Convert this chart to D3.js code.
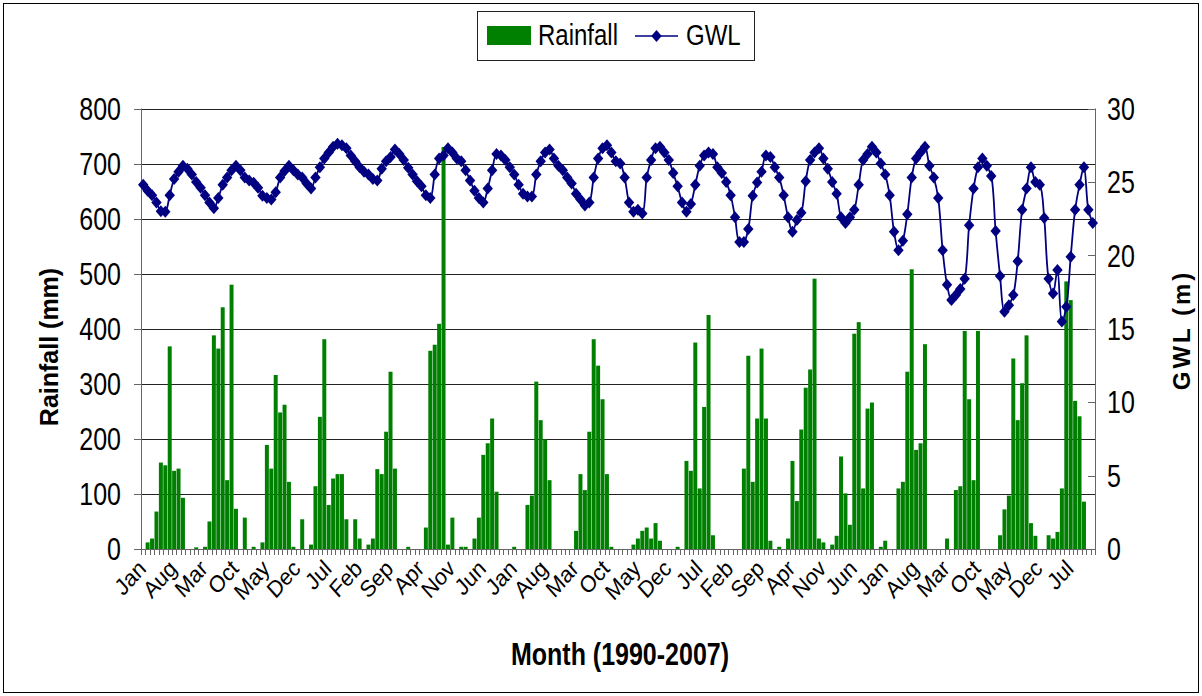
<!DOCTYPE html>
<html>
<head>
<meta charset="utf-8">
<script src="https://cdn.jsdelivr.net/npm/d3@7"></script>
<style>
  body { margin: 0; background: #fff; }
  svg text { font-family: "Liberation Sans", Arial, sans-serif; fill: #000; }
</style>
</head>
<body>
<div id="chart"></div>
<script>
// monthly series, Jan 1990 .. Dec 2007 (12 values per row = one year)
const monthNames = ['Jan', 'Feb', 'Mar', 'Apr', 'May', 'Jun', 'Jul', 'Aug', 'Sep', 'Oct', 'Nov', 'Dec'];
const years = d3.range(1990, 2008);

const rainfall = [
  0, 12, 19, 68, 157, 152, 368, 142, 146, 93, 0, 0,
  3, 0, 4, 50, 388, 364, 439, 125, 480, 73, 0, 57,
  0, 4, 0, 12, 189, 146, 316, 248, 262, 122, 4, 0,
  54, 0, 8, 114, 240, 381, 80, 128, 136, 136, 54, 0,
  54, 19, 0, 8, 19, 145, 136, 213, 322, 146, 0, 0,
  4, 0, 0, 0, 39, 360, 371, 409, 730, 8, 57, 0,
  4, 4, 0, 19, 57, 171, 192, 237, 104, 0, 0, 0,
  4, 0, 0, 80, 97, 304, 234, 199, 125, 0, 0, 0,
  0, 0, 33, 136, 107, 213, 381, 333, 272, 136, 4, 0,
  0, 0, 0, 8, 19, 33, 39, 19, 47, 15, 0, 0,
  0, 4, 0, 160, 142, 375, 110, 258, 425, 25, 0, 0,
  0, 0, 0, 0, 146, 351, 122, 237, 364, 237, 15, 0,
  4, 0, 19, 160, 87, 217, 293, 326, 491, 19, 12, 0,
  8, 24, 168, 101, 44, 391, 412, 110, 255, 266, 0, 4,
  15, 0, 0, 110, 122, 322, 508, 180, 192, 372, 0, 0,
  0, 0, 19, 0, 107, 114, 396, 272, 125, 396, 0, 0,
  0, 0, 25, 72, 97, 346, 234, 301, 388, 47, 24, 0,
  0, 25, 19, 31, 110, 486, 452, 269, 241, 86, 0, 0
];

const gwl = [
  24.8, 24.4, 24.1, 23.6, 23.0, 22.96, 24.1, 25.2, 25.7, 26.1, 25.9, 25.5,
  25.0, 24.6, 24.1, 23.6, 23.2, 23.9, 24.8, 25.3, 25.8, 26.1, 25.8, 25.3,
  25.1, 24.95, 24.6, 24.05, 23.9, 23.8, 24.3, 25.3, 25.75, 26.1, 25.8, 25.5,
  25.3, 24.9, 24.55, 25.3, 26.0, 26.6, 27.0, 27.4, 27.6, 27.5, 27.3, 26.8,
  26.4, 26.0, 25.7, 25.5, 25.2, 25.1, 25.9, 26.4, 26.7, 27.2, 26.9, 26.5,
  25.96, 25.5, 25.05, 24.7, 24.1, 23.9, 25.5, 26.6, 26.8, 27.3, 27.0, 26.6,
  26.4, 25.8, 25.1, 24.4, 23.9, 23.6, 24.55, 25.8, 26.9, 26.8, 26.5, 26.0,
  25.5, 24.8, 24.2, 24.0, 24.0, 25.5, 26.4, 27.0, 27.2, 26.6, 26.1, 25.8,
  25.3, 24.9, 24.2, 23.8, 23.4, 23.6, 25.3, 26.6, 27.3, 27.5, 27.0, 26.4,
  26.25, 25.3, 23.6, 22.96, 23.1, 22.85, 25.3, 26.5, 27.3, 27.4, 27.0, 26.5,
  25.6, 24.7, 23.6, 22.96, 23.5, 24.8, 26.1, 26.8, 27.0, 26.9, 26.0, 25.6,
  25.0, 24.1, 22.6, 20.9, 20.9, 21.8, 24.05, 24.96, 25.7, 26.8, 26.7, 26.0,
  25.3, 24.1, 22.6, 21.6, 22.4, 22.9, 25.05, 26.5, 27.0, 27.3, 26.6, 25.9,
  25.0, 24.2, 22.6, 22.2, 22.6, 23.1, 24.8, 26.5, 26.9, 27.4, 27.0, 26.25,
  25.5, 24.1, 21.6, 20.35, 21.0, 22.8, 25.3, 26.6, 27.0, 27.4, 26.1, 25.3,
  23.9, 20.35, 18.0, 16.95, 17.3, 17.7, 18.4, 22.05, 24.55, 26.0, 26.6, 26.1,
  25.4, 21.65, 18.6, 16.15, 16.6, 17.3, 19.6, 23.1, 24.55, 26.0, 25.0, 24.8,
  22.55, 18.4, 17.4, 19.0, 15.5, 16.5, 19.9, 23.1, 24.8, 26.0, 23.1, 22.2
];

const rainTicks = [0, 100, 200, 300, 400, 500, 600, 700, 800];
const gwlTicks = [0, 5, 10, 15, 20, 25, 30];
const labelStep = 7;

const width = 1202;
const height = 696;
const plot = {left: 141, right: 1095, top: 108.5, bottom: 549};
const sy = 1.25;   // the original picture is stretched vertically

const months = years.flatMap(y => monthNames.map(m => ({year: y, month: m})));
const data = months.map((d, i) => ({i, label: d.month, rain: rainfall[i], level: gwl[i]}));

const svg = d3.select('#chart')
  .append('svg')
  .attr('width', width)
  .attr('height', height);

svg.append('rect')
  .attr('x', 3.5).attr('y', 3.5)
  .attr('width', width - 7).attr('height', height - 7)
  .attr('fill', 'none')
  .attr('stroke', '#000');

const x = d3.scaleBand()
  .domain(d3.range(data.length))
  .range([plot.left, plot.right]);

const yRain = d3.scaleLinear()
  .domain([0, 800])
  .range([plot.bottom, plot.top]);

const yGwl = d3.scaleLinear()
  .domain([0, 30])
  .range([plot.bottom, plot.top]);

function stretched(sel, tx, ty, rot, s) {
  return sel.attr('transform', `translate(${tx},${ty}) scale(1,${s || sy}) rotate(${rot || 0})`);
}

// gridlines
svg.append('g')
  .selectAll('line')
  .data(rainTicks.filter(d => d > 0))
  .enter().append('line')
  .attr('x1', plot.left).attr('x2', plot.right)
  .attr('y1', d => Math.round(yRain(d)) + 0.5)
  .attr('y2', d => Math.round(yRain(d)) + 0.5)
  .attr('stroke', '#222');

// rainfall bars
const bw = x.bandwidth();
svg.append('g')
  .selectAll('rect')
  .data(data.filter(d => d.rain > 0))
  .enter().append('rect')
  .attr('x', d => x(d.i) + bw * 0.05)
  .attr('width', bw * 0.9)
  .attr('y', d => yRain(d.rain))
  .attr('height', d => plot.bottom - yRain(d.rain))
  .attr('fill', '#008000');

// axes lines
const axisColour = '#666';
const axes = svg.append('g').attr('stroke', axisColour).attr('fill', 'none');
axes.append('line')
  .attr('x1', plot.left + 0.5).attr('x2', plot.left + 0.5)
  .attr('y1', plot.top).attr('y2', plot.bottom);
axes.append('line')
  .attr('x1', plot.right + 0.5).attr('x2', plot.right + 0.5)
  .attr('y1', plot.top).attr('y2', plot.bottom);
axes.append('line')
  .attr('x1', plot.left).attr('x2', plot.right + 1)
  .attr('y1', plot.bottom + 0.5).attr('y2', plot.bottom + 0.5);

// left ticks + labels
axes.selectAll('.lt')
  .data(rainTicks)
  .enter().append('line')
  .attr('x1', plot.left - 7).attr('x2', plot.left)
  .attr('y1', d => Math.round(yRain(d)) + 0.5)
  .attr('y2', d => Math.round(yRain(d)) + 0.5);

svg.append('g')
  .selectAll('text')
  .data(rainTicks)
  .enter().append('text')
  .attr('text-anchor', 'end')
  .attr('font-size', 25)
  .attr('dy', '0.36em')
  .text(d => d)
  .each(function(d) { stretched(d3.select(this), 121, yRain(d)); });

// right ticks + labels
axes.selectAll('.rt')
  .data(gwlTicks)
  .enter().append('line')
  .attr('x1', plot.right - 7).attr('x2', plot.right)
  .attr('y1', d => Math.round(yGwl(d)) + 0.5)
  .attr('y2', d => Math.round(yGwl(d)) + 0.5);

svg.append('g')
  .selectAll('text')
  .data(gwlTicks)
  .enter().append('text')
  .attr('text-anchor', 'start')
  .attr('font-size', 25)
  .attr('dy', '0.36em')
  .text(d => d)
  .each(function(d) { stretched(d3.select(this), 1107, yGwl(d)); });

// month ticks between categories
axes.selectAll('.xt')
  .data(d3.range(data.length + 1))
  .enter().append('line')
  .attr('x1', i => Math.round(plot.left + i * bw) + 0.5)
  .attr('x2', i => Math.round(plot.left + i * bw) + 0.5)
  .attr('y1', plot.bottom)
  .attr('y2', plot.bottom + 6);

svg.append('g')
  .selectAll('text')
  .data(data.filter(d => d.i % labelStep === 0))
  .enter().append('text')
  .attr('text-anchor', 'end')
  .attr('font-size', 21)
  .text(d => d.label)
  .each(function(d) { stretched(d3.select(this), x(d.i) + bw / 2 + 4, 570, -45, 1.12); });

// GWL line with diamonds
const line = d3.line()
  .x(d => x(d.i) + bw / 2)
  .y(d => yGwl(d.level))
  .curve(d3.curveCatmullRom);

svg.append('path')
  .datum(data)
  .attr('d', line)
  .attr('fill', 'none')
  .attr('stroke', '#000080')
  .attr('stroke-width', 1.8);

const diamond = 'M0,-6L5.2,0L0,6L-5.2,0Z';
svg.append('g')
  .selectAll('path')
  .data(data)
  .enter().append('path')
  .attr('d', diamond)
  .attr('transform', d => `translate(${x(d.i) + bw / 2},${yGwl(d.level)})`)
  .attr('fill', '#000080');

// axis titles
stretched(svg.append('text')
  .attr('text-anchor', 'middle')
  .attr('font-size', 25)
  .attr('font-weight', 'bold')
  .text('Rainfall (mm)'), 58, 347, -90, 1);

stretched(svg.append('text')
  .attr('text-anchor', 'middle')
  .attr('font-size', 24)
  .attr('font-weight', 'bold')
  .attr('letter-spacing', 3)
  .text('GWL (m)'), 1190, 330, -90, 1);

stretched(svg.append('text')
  .attr('text-anchor', 'middle')
  .attr('font-size', 25)
  .attr('font-weight', 'bold')
  .text('Month (1990-2007)'), 620, 665);

// legend
const legend = svg.append('g');
legend.append('rect')
  .attr('x', 477.5).attr('y', 11.5)
  .attr('width', 277).attr('height', 49)
  .attr('fill', '#fff').attr('stroke', '#222');
legend.append('rect')
  .attr('x', 487).attr('y', 26)
  .attr('width', 44).attr('height', 19)
  .attr('fill', '#008000');
stretched(legend.append('text')
  .attr('font-size', 24)
  .text('Rainfall'), 538, 45);
legend.append('line')
  .attr('x1', 635).attr('x2', 678)
  .attr('y1', 36).attr('y2', 36)
  .attr('stroke', '#000080').attr('stroke-width', 1.6);
legend.append('path')
  .attr('d', diamond)
  .attr('transform', 'translate(656.5,36)')
  .attr('fill', '#000080');
stretched(legend.append('text')
  .attr('font-size', 24)
  .text('GWL'), 686, 45);
</script>
</body>
</html>
